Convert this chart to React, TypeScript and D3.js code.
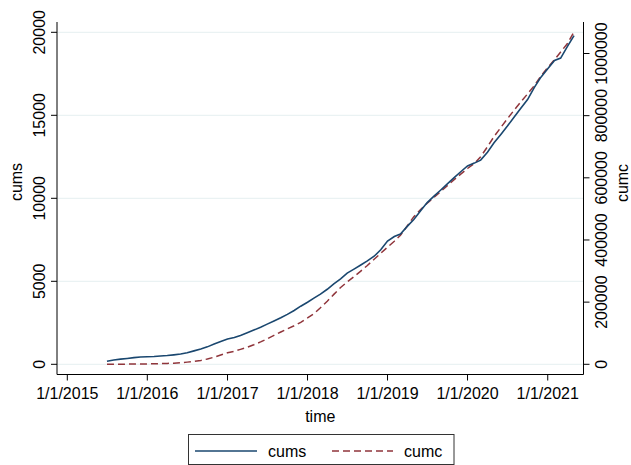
import React from "react";
import * as d3 from "d3";

const months: string[] = [
  "2015-07","2015-08","2015-09","2015-10","2015-11","2015-12",
  "2016-01","2016-02","2016-03","2016-04","2016-05","2016-06","2016-07","2016-08","2016-09","2016-10","2016-11","2016-12",
  "2017-01","2017-02","2017-03","2017-04","2017-05","2017-06","2017-07","2017-08","2017-09","2017-10","2017-11","2017-12",
  "2018-01","2018-02","2018-03","2018-04","2018-05","2018-06","2018-07","2018-08","2018-09","2018-10","2018-11","2018-12",
  "2019-01","2019-02","2019-03","2019-04","2019-05","2019-06","2019-07","2019-08","2019-09","2019-10","2019-11","2019-12",
  "2020-01","2020-02","2020-03","2020-04","2020-05","2020-06","2020-07","2020-08","2020-09","2020-10","2020-11","2020-12",
  "2021-01","2021-02","2021-03","2021-04","2021-05",
];

const cums: number[] = [
  180, 260, 310, 350, 400, 440,
  455, 470, 500, 530, 570, 620, 700, 810, 920, 1050, 1220, 1380,
  1520, 1610, 1740, 1900, 2060, 2230, 2420, 2610, 2800, 3010, 3240, 3500,
  3740, 4000, 4230, 4520, 4850, 5150, 5490, 5730, 5980, 6230, 6510, 6900,
  7420, 7700, 7850, 8310, 8720, 9250, 9740, 10130, 10500, 10870, 11240, 11600,
  11950, 12120, 12300, 12780, 13350, 13850, 14350, 14900, 15440, 15950, 16680, 17300,
  17800, 18300, 18450, 19150, 19800,
];

const cumc: number[] = [
  0, 200, 400, 600, 800, 1000,
  1300, 1700, 2200, 2800, 3500, 5000, 7000, 9500, 12500, 17000, 23000, 30000,
  37000, 42000, 48000, 55000, 63000, 72000, 82000, 93000, 104000, 114000, 124000, 135000,
  149000, 164000, 182000, 203000, 225000, 247000, 265000, 282000, 300000, 318000, 338000, 357000,
  377000, 396000, 415000, 445000, 475000, 498000, 518000, 537000, 556000, 575000, 594000, 612000,
  630000, 646000, 668000, 700000, 733000, 762000, 790000, 818000, 845000, 870000, 897000, 928000,
  955000, 980000, 1005000, 1032000, 1070000,
];

const leftTicks: number[] = [0, 5000, 10000, 15000, 20000];
const rightTicks: number[] = [0, 200000, 400000, 600000, 800000, 1000000];
const xTickLabels: string[] = ["1/1/2015", "1/1/2016", "1/1/2017", "1/1/2018", "1/1/2019", "1/1/2020", "1/1/2021"];

const W = 631, H = 465;
const PL = 57, PR = 583.5, PT = 22, PB = 374.5;
const FONT = "'Liberation Sans', Arial, sans-serif";
const FS = 16;
const NAVY = "#1a476f";
const MAROON = "#90353b";

export default function App() {
  const parseM = d3.timeParse("%Y-%m");
  const parseD = d3.timeParse("%m/%d/%Y");
  const dates = months.map((m) => parseM(m) as Date);
  const tickDates = xTickLabels.map((t) => parseD(t) as Date);

  // 1/1/2015 at 67.3, 1/1/2016 at 147.3
  const x = d3.scaleTime()
    .domain([tickDates[0], tickDates[1]])
    .range([67.3, 147.3]);
  const yL = d3.scaleLinear().domain([0, 20000]).range([364.3, 32.3]);
  const yR = d3.scaleLinear().domain([0, 1000000]).range([364.3, 53.5]);

  const lineS = d3.line<number>()
    .x((_, i) => x(dates[i]))
    .y((d) => yL(d))
    .curve(d3.curveLinear);
  const lineC = d3.line<number>()
    .x((_, i) => x(dates[i]))
    .y((d) => yR(d))
    .curve(d3.curveLinear);

  const fmt = (v: number) => String(v);

  return (
    <svg width={W} height={H} style={{ position: "absolute", left: 0, top: 0, background: "#fff" }}
      fontFamily={FONT}>
      <rect x={0} y={0} width={W} height={H} fill="#fff" />
      {/* grid */}
      {leftTicks.map((t) => (
        <line key={"g" + t} x1={PL} x2={PR} y1={yL(t)} y2={yL(t)} stroke="#eaf2f3" strokeWidth={1.2} />
      ))}
      {/* lines */}
      <path d={lineC(cumc) || ""} fill="none" stroke={MAROON} strokeWidth={1.5} strokeDasharray="7,4" />
      <path d={lineS(cums) || ""} fill="none" stroke={NAVY} strokeWidth={1.6} />
      {/* left axis */}
      <line x1={PL} x2={PL} y1={PT} y2={PB} stroke="#000" strokeWidth={1} />
      {leftTicks.map((t) => (
        <g key={"l" + t}>
          <line x1={PL - 6} x2={PL} y1={yL(t)} y2={yL(t)} stroke="#000" strokeWidth={1} />
          <text transform={`translate(${45},${yL(t)}) rotate(-90)`} textAnchor="middle" fontSize={FS} fill="#000">
            {fmt(t)}
          </text>
        </g>
      ))}
      <text transform={`translate(22,182) rotate(-90)`} textAnchor="middle" fontSize={FS} fill="#000">cums</text>
      {/* right axis */}
      <line x1={PR} x2={PR} y1={PT} y2={PB} stroke="#000" strokeWidth={1} />
      {rightTicks.map((t) => (
        <g key={"r" + t}>
          <line x1={PR} x2={PR + 6} y1={yR(t)} y2={yR(t)} stroke="#000" strokeWidth={1} />
          <text transform={`translate(${607},${yR(t)}) rotate(-90)`} textAnchor="middle" fontSize={FS} fill="#000">
            {fmt(t)}
          </text>
        </g>
      ))}
      <text transform={`translate(628,183) rotate(-90)`} textAnchor="middle" fontSize={FS} fill="#000">cumc</text>
      {/* x axis */}
      <line x1={PL} x2={PR} y1={PB} y2={PB} stroke="#000" strokeWidth={1} />
      {tickDates.map((d, i) => (
        <g key={"x" + i}>
          <line x1={x(d)} x2={x(d)} y1={PB} y2={PB + 6} stroke="#000" strokeWidth={1} />
          <text x={x(d)} y={399} textAnchor="middle" fontSize={FS} fill="#000">{xTickLabels[i]}</text>
        </g>
      ))}
      <text x={(PL + PR) / 2} y={421.5} textAnchor="middle" fontSize={FS} fill="#000">time</text>
      {/* legend */}
      <rect x={188.5} y={434.5} width={265.5} height={30} fill="#fff" stroke="#333" strokeWidth={1} />
      <line x1={195} x2={257} y1={451} y2={451} stroke={NAVY} strokeWidth={1.6} />
      <text x={268} y={456.5} fontSize={FS} fill="#000">cums</text>
      <line x1={332} x2={393} y1={451} y2={451} stroke={MAROON} strokeWidth={1.5} strokeDasharray="7,4" />
      <text x={404} y={456.5} fontSize={FS} fill="#000">cumc</text>
    </svg>
  );
}
